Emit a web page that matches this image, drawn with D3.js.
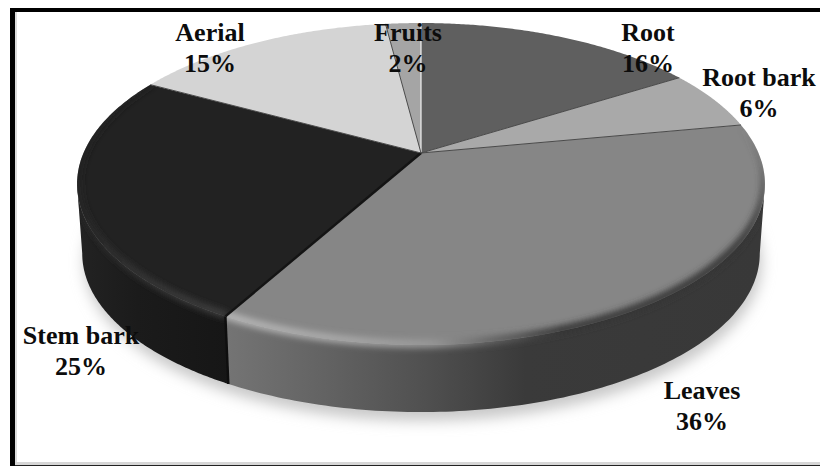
<!DOCTYPE html>
<html>
<head>
<meta charset="utf-8">
<script src="https://cdn.jsdelivr.net/npm/d3@7/dist/d3.min.js"></script>
<style>
  html, body { margin: 0; padding: 0; background: #fff; }
  svg { display: block; }
  text { font-family: "Liberation Serif", serif; font-weight: 700; font-size: 26px; fill: #0c0c0c; text-anchor: middle; }
</style>
</head>
<body>
<svg id="chart" width="820" height="466"></svg>
<script>
// Plant parts used, share of the total in percent
const categories = ["Root", "Root bark", "Leaves", "Stem bark", "Aerial", "Fruits"];
const shares = [16, 6, 36, 25, 15, 2];
const topFills = ["#5f5f5f", "#a9a9a9", "#868686", "#222222", "#d4d4d4", "#a5a5a5"];
const labelCentres = [[648, 32], [759, 77], [702, 390], [81, 335], [210, 32], [408, 32]];

const svg = d3.select("#chart");
const defs = svg.append("defs");

// Tilted-disc projection: angle 0 is the far edge, angles run clockwise.
const apex = [421, 153], radiusX = 337.5, radiusY = 155, tilt = 0.1925;
const thickness = 70, baseShrink = 0.985;
const wallStart = Math.PI - Math.acos(tilt), wallEnd = Math.PI + Math.acos(tilt);

function project(angle, r = 1, drop = 0) {
  const X = r * Math.sin(angle), Y = -r * Math.cos(angle);
  const w = 1 - tilt * Y;
  const shrink = drop ? baseShrink : 1;
  return [apex[0] + radiusX * shrink * X / w, apex[1] + radiusY * shrink * Y / w + drop];
}
const rimPoints = (a0, a1, r, drop) => d3.range(0, 121).map(i => project(a0 + (a1 - a0) * i / 120, r, drop));
const line = d3.line();

const arcs = d3.pie().value(d => d).sort(null)(shares);
const fullBase = line(rimPoints(0, 2 * Math.PI, 1, thickness)) + "Z";

const blur = (id, amount) => defs.append("filter").attr("id", id)
  .attr("filterUnits", "userSpaceOnUse").attr("x", 0).attr("y", 0).attr("width", 820).attr("height", 466)
  .append("feGaussianBlur").attr("stdDeviation", amount);
blur("soft", 7);
blur("rimBlur", 3);

// Side wall shading runs left to right across the front of the disc
const gradient = (id, stops, x1, x2) => {
  const g = defs.append("linearGradient").attr("id", id).attr("gradientUnits", "userSpaceOnUse")
    .attr("x1", x1).attr("x2", x2).attr("y1", 0).attr("y2", 0);
  stops.forEach(([o, c]) => g.append("stop").attr("offset", o).attr("stop-color", c));
};
gradient("leafWall", [[0, "#747474"], [0.18, "#636363"], [0.36, "#515151"], [0.56, "#3a3a3a"], [1, "#383838"]], 228, 760);
gradient("stemWall", [[0, "#232323"], [0.4, "#1b1b1b"], [1, "#161616"]], 75, 230);

// Drop shadow cast on the page
svg.append("path").attr("d", fullBase).attr("transform", "translate(2,9)")
  .attr("fill", "#c8c8c8").attr("filter", "url(#soft)");

// Side wall: the visible front of the disc between the top rim and the base rim
const wallFor = (a0, a1) => {
  const from = Math.max(a0, wallStart), to = Math.min(a1, wallEnd);
  if (to <= from) return null;
  const upper = rimPoints(from, to, 1, 0);
  const lower = rimPoints(from, to, 1, thickness).reverse();
  return line(upper.concat(lower)) + "Z";
};
const wallArcs = arcs.filter(d => wallFor(d.startAngle, d.endAngle));
const wallFills = { "Leaves": "url(#leafWall)", "Stem bark": "url(#stemWall)" };
svg.append("g").selectAll("path")
  .data(wallArcs)
  .join("path")
  .attr("d", d => wallFor(d.startAngle, d.endAngle))
  .attr("fill", d => wallFills[categories[d.index]] || topFills[d.index]);

// Top face slices
const wedge = d => line([apex].concat(rimPoints(d.startAngle, d.endAngle, 1, 0))) + "Z";
const tops = svg.append("g");
tops.selectAll("path.slice").data(arcs).join("path").attr("class", "slice")
  .attr("d", wedge).attr("fill", d => topFills[d.index]);

// Bevel along the rim: tone and width change with the angle round the disc
const deg = Math.PI / 180;
const bevelStyle = {
  "Leaves": {
    tone: d3.scaleLinear().domain([79, 110, 160, 170, 178, 190, 209])
      .range(["#5a5a5a", "#363636", "#363636", "#666666", "#989898", "#a8a8a8", "#b8b8b8"]),
    width: d3.scaleLinear().domain([79, 95, 125, 165, 209]).range([0, 2, 8, 8, 8])
  },
  "Stem bark": {
    tone: d3.scaleLinear().domain([209, 225, 245, 265, 299])
      .range(["#404040", "#383838", "#2a2a2a", "#232323", "#222222"]),
    width: d3.scaleLinear().domain([209, 299]).range([7, 3])
  }
};
wallArcs.forEach(d => {
  const clip = defs.append("clipPath").attr("id", "solid" + d.index);
  clip.append("path").attr("d", wedge(d));
  clip.append("path").attr("d", wallFor(d.startAngle, d.endAngle));
  const style = bevelStyle[categories[d.index]];
  const steps = d3.range(d.startAngle / deg, d.endAngle / deg, 1);
  tops.append("g").attr("clip-path", `url(#solid${d.index})`)
    .append("g").attr("filter", "url(#rimBlur)")
    .selectAll("path").data(steps).join("path")
    .attr("d", a => line(rimPoints(a * deg, (a + 1.3) * deg, 0.995, 0).filter((p, i) => i % 20 === 0)))
    .attr("fill", "none")
    .attr("stroke", a => style.tone(a))
    .attr("stroke-width", a => style.width(a));
});

// Hairlines between wedges on the top face
svg.append("g").selectAll("line").data(arcs).join("line")
  .attr("x1", apex[0]).attr("y1", apex[1])
  .attr("x2", d => project(d.startAngle)[0]).attr("y2", d => project(d.startAngle)[1])
  .attr("stroke", d => d.index === 0 ? "#f2f2f2" : (categories[d.index] === "Stem bark" ? "#141414" : "#4a4a4a"))
  .attr("stroke-width", d => d.index === 0 ? 1.2 : (categories[d.index] === "Stem bark" ? 2.4 : 1));

// Dark seam down the wall where Leaves meets Stem bark
const seamArc = arcs[categories.indexOf("Stem bark")];
svg.append("path")
  .attr("d", line([project(seamArc.startAngle), project(seamArc.startAngle, 1, thickness)]))
  .attr("stroke", "#0e0e0e").attr("stroke-width", 2.4).attr("fill", "none");

// Category name and percentage
const labels = svg.append("g").selectAll("text").data(categories).join("text")
  .attr("x", (d, i) => labelCentres[i][0]).attr("y", (d, i) => labelCentres[i][1] + 9);
labels.append("tspan").text(d => d);
labels.append("tspan").attr("x", (d, i) => labelCentres[i][0]).attr("dy", 31).text((d, i) => shares[i] + "%");

// Frame: black left, top and bottom rules with a grey inner edge
svg.append("g").selectAll("rect")
  .data([
    [15, 12, 2, 450, "#dcdcdc"], [15, 462, 805, 3, "#d6d6d6"],
    [10, 8, 5, 458, "#000"], [10, 8, 810, 4, "#000"], [15, 465, 805, 1, "#222"]
  ]).join("rect")
  .attr("x", d => d[0]).attr("y", d => d[1]).attr("width", d => d[2]).attr("height", d => d[3]).attr("fill", d => d[4]);
</script>
</body>
</html>
